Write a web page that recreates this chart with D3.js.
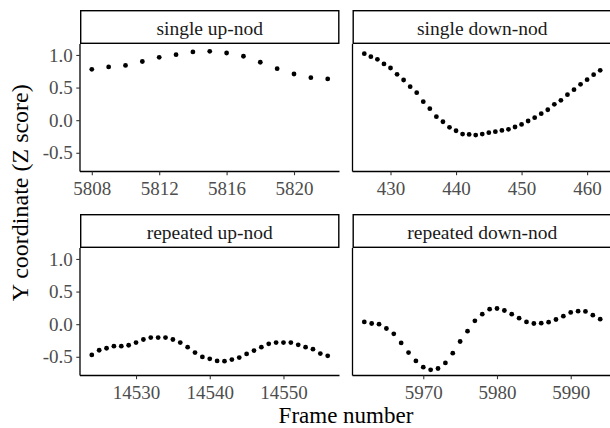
<!DOCTYPE html>
<html>
<head>
<meta charset="utf-8">
<script src="https://cdn.jsdelivr.net/npm/d3@7"></script>
<style>
  body { margin: 0; background: #fff; }
  svg { display: block; font-family: "Liberation Serif", "DejaVu Serif", serif; }
</style>
</head>
<body>
<div id="chart"></div>
<script>
  var w = 610, h = 428;

  // panel titles, in facet order
  var panelNames = ["single up-nod", "single down-nod", "repeated up-nod", "repeated down-nod"];

  // first frame of each clip (frames are consecutive)
  var startFrames = [5808, 426, 14524, 5962];

  // Y coordinate (Z score) per frame
  var singleUp = [0.78, 0.816, 0.84, 0.90, 0.964, 1.005, 1.046, 1.056, 1.03, 0.98, 0.888, 0.79, 0.708, 0.652, 0.632];
  var singleDown = [1.02, 0.974, 0.933, 0.862, 0.80, 0.703, 0.616, 0.514, 0.422, 0.283, 0.176, 0.053, -0.024,
    -0.11, -0.162, -0.213, -0.218, -0.228, -0.213, -0.192, -0.177, -0.157, -0.141, -0.105, -0.065, -0.013,
    0.038, 0.099, 0.16, 0.243, 0.304, 0.391, 0.468, 0.55, 0.621, 0.698, 0.765];
  var repeatedUp = [-0.471, -0.40, -0.369, -0.338, -0.338, -0.323, -0.282, -0.235, -0.205, -0.205, -0.205,
    -0.235, -0.282, -0.353, -0.435, -0.502, -0.532, -0.563, -0.568, -0.543, -0.512, -0.456, -0.405, -0.353,
    -0.302, -0.282, -0.282, -0.282, -0.317, -0.353, -0.384, -0.451, -0.486];
  var repeatedDown = [0.035, 0.01, 0.0, -0.066, -0.148, -0.287, -0.435, -0.563, -0.66, -0.70, -0.68, -0.594,
    -0.445, -0.266, -0.108, 0.051, 0.154, 0.23, 0.24, 0.21, 0.154, 0.092, 0.035, 0.01, 0.015, 0.03, 0.072,
    0.123, 0.18, 0.20, 0.195, 0.138, 0.077];

  var seriesValues = [singleUp, singleDown, repeatedUp, repeatedDown];

  // tick labels
  var xTicks = [
    [5808, 5812, 5816, 5820],
    [430, 440, 450, 460],
    [14530, 14540, 14550],
    [5970, 5980, 5990]
  ];
  var yTicks = [-0.5, 0.0, 0.5, 1.0];

  // layout
  var colX = [80, 352.5];
  var panelW = 259.5;
  var stripTop = [10, 214];
  var stripH = 34;
  var panelH = 127.5;

  var svg = d3.select("#chart").append("svg")
    .attr("width", w)
    .attr("height", h);

  // shared y scale (fixed across facets)
  var y = d3.scaleLinear().domain([-0.787, 1.168]).range([panelH, 0]);

  panelNames.forEach(function(name, i) {
    var col = i % 2, row = Math.floor(i / 2);
    var vals = seriesValues[i];
    var pts = vals.map(function(v, j) { return { frame: startFrames[i] + j, value: v }; });
    var ext = d3.extent(pts, function(d) { return d.frame; });
    var pad = (ext[1] - ext[0]) * 0.05;
    var x = d3.scaleLinear().domain([ext[0] - pad, ext[1] + pad]).range([0, panelW]);

    var g = svg.append("g")
      .attr("transform", "translate(" + colX[col] + "," + (stripTop[row] + stripH) + ")");

    // strip
    var strip = svg.append("g")
      .attr("transform", "translate(" + colX[col] + "," + stripTop[row] + ")");
    strip.append("rect")
      .attr("x", 0.7).attr("y", 0.7)
      .attr("width", panelW - 1.4).attr("height", stripH - 1.4)
      .style("fill", "#fff")
      .style("stroke", "#000")
      .style("stroke-width", 1.4);
    strip.append("text")
      .attr("x", panelW / 2)
      .attr("y", stripH / 2 + 7.5)
      .attr("text-anchor", "middle")
      .style("font-size", "19.5px")
      .style("fill", "#1a1a1a")
      .text(name);

    // points
    g.selectAll("circle")
      .data(pts)
      .enter()
      .append("circle")
      .attr("cx", function(d) { return x(d.frame); })
      .attr("cy", function(d) { return y(d.value); })
      .attr("r", 2.4)
      .style("fill", "#000");

    // x axis
    var xa = g.append("g")
      .attr("transform", "translate(0," + panelH + ")")
      .call(d3.axisBottom(x).tickValues(xTicks[i]).tickSize(3.7).tickPadding(6.5).tickFormat(d3.format("d")));
    xa.select(".domain").style("stroke", "#000").style("stroke-width", 1.3).attr("d", "M0,0H" + panelW);
    xa.selectAll(".tick line").style("stroke", "#333").style("stroke-width", 1.1);
    xa.selectAll("text")
      .style("font-family", "Liberation Serif, serif")
      .style("font-size", "19px")
      .style("fill", "#4d4d4d");

    // y axis only on the left column
    var ya = g.append("g");
    if (col === 0) {
      ya.call(d3.axisLeft(y).tickValues(yTicks).tickSize(3.7).tickPadding(3.6).tickFormat(d3.format(".1f")));
      ya.selectAll(".tick line").style("stroke", "#333").style("stroke-width", 1.1);
      ya.selectAll("text")
        .style("font-family", "Liberation Serif, serif")
        .style("font-size", "19px")
        .style("fill", "#4d4d4d")
        .text(function(d) { return d3.format(".1f")(d).replace("−", "-"); });
    } else {
      ya.call(d3.axisLeft(y).tickValues([]).tickSize(0));
    }
    ya.select(".domain").style("stroke", "#000").style("stroke-width", 1.3).attr("d", "M0,0V" + panelH);
  });

  // axis titles
  svg.append("text")
    .attr("x", (colX[0] + colX[1] + panelW) / 2)
    .attr("y", 423)
    .attr("text-anchor", "middle")
    .style("font-size", "23px")
    .style("fill", "#000")
    .text("Frame number");

  svg.append("text")
    .attr("transform", "translate(28," + ((stripTop[0] + stripTop[1] + stripH + panelH) / 2) + ") rotate(-90)")
    .attr("text-anchor", "middle")
    .style("font-size", "24px")
    .style("fill", "#000")
    .text("Y coordinate (Z score)");
</script>
</body>
</html>
